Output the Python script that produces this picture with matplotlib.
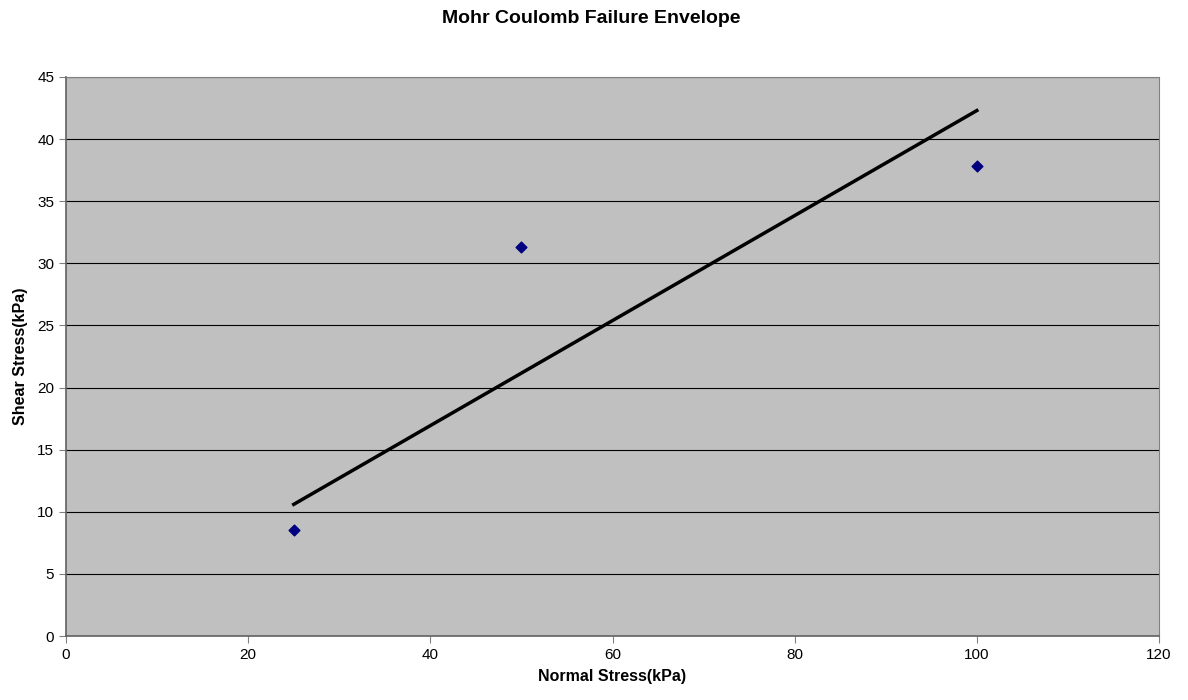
import matplotlib
matplotlib.use("Agg")
import matplotlib.pyplot as plt

plt.rcParams['font.family'] = ['Liberation Sans', 'DejaVu Sans']

# measured points
normal_stress = [25, 50, 100]
shear_stress = [8.5, 31.3, 37.8]

# failure envelope line
env_x = [25, 100]
env_y = [10.6, 42.3]

x_ticks = [0, 20, 40, 60, 80, 100, 120]
y_ticks = [0, 5, 10, 15, 20, 25, 30, 35, 40, 45]

fig = plt.figure(figsize=(11.88, 7.0), dpi=100)
ax = fig.add_axes([0.0556, 0.0914, 0.92, 0.7986])
ax.set_facecolor("#c0c0c0")

for y in y_ticks[1:]:
    ax.axhline(y, color="#000000", linewidth=0.8, zorder=1)

ax.plot(env_x, env_y, color="black", linewidth=2.5, zorder=3)
ax.scatter(normal_stress, shear_stress, marker="D", s=30, color="#000080", zorder=4)

ax.set_xlim(0, 120)
ax.set_ylim(0, 45)
ax.set_xticks(x_ticks)
ax.set_yticks(y_ticks)
ax.tick_params(axis="both", labelsize=11, length=5, width=0.8, color="#808080")

for side in ["left", "bottom"]:
    ax.spines[side].set_color("#606060")
    ax.spines[side].set_linewidth(1.2)
for side in ["right", "top"]:
    ax.spines[side].set_color("#808080")
    ax.spines[side].set_linewidth(0.8)

# title is centred on the figure, not the axes
fig.text(0.4975, 0.974, "Mohr Coulomb Failure Envelope", fontsize=14,
         fontweight="bold", ha="center", va="center")
ax.set_xlabel("Normal Stress(kPa)", fontsize=11.5, fontweight="bold", labelpad=5)
ax.set_ylabel("Shear Stress(kPa)", fontsize=11.5, fontweight="bold", labelpad=7)

fig.savefig("out.png", dpi=100)
